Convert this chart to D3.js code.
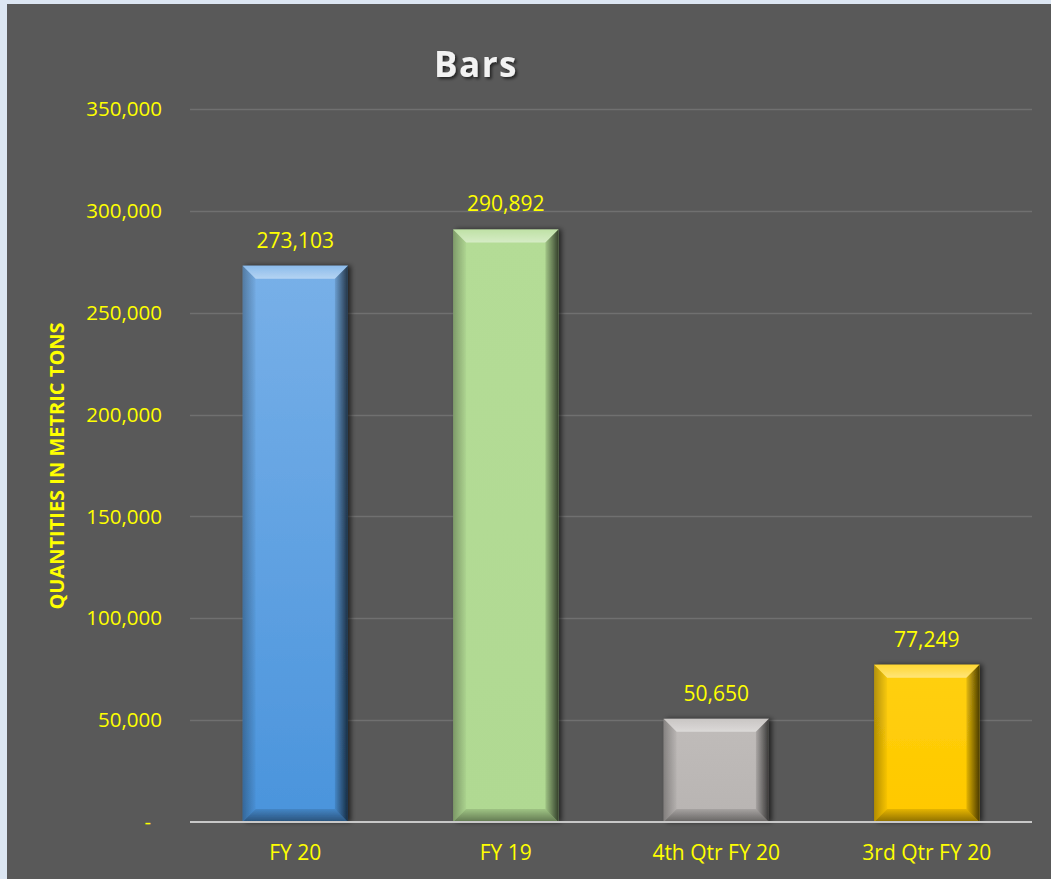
<!DOCTYPE html>
<html><head><meta charset="utf-8">
<script src="https://cdn.jsdelivr.net/npm/d3@7"></script>
<style>
html,body{margin:0;padding:0;background:#dce6f2;}
svg{display:block;}
</style></head>
<body>
<svg id="chart" width="1051" height="879"></svg>
<script>
const categories = ["FY 20", "FY 19", "4th Qtr FY 20", "3rd Qtr FY 20"];
const values = [273103, 290892, 50650, 77249];
const yTicks = [0, 50000, 100000, 150000, 200000, 250000, 300000, 350000];
const barColors = [["#78b0e8", "#4a94dc"], ["#b4dc96", "#b0d992"], ["#c0bcba", "#b8b4b2"], ["#ffd00d", "#ffc800"]];

const W = 1051, H = 879;
const svg = d3.select("#chart");
const FONT = "'Open Sans', 'Liberation Sans', sans-serif";

svg.append("rect").attr("x", 7).attr("y", 4).attr("width", W - 7).attr("height", H - 4).attr("fill", "#595959");

const x = d3.scaleBand().domain(categories).range([190, 1032]).paddingInner(0.5).paddingOuter(0.25);
const y = d3.scaleLinear().domain([0, 350000]).range([822, 109]);

const defs = svg.append("defs");
const f = defs.append("filter").attr("id", "shadow").attr("x", "-20%").attr("y", "-20%").attr("width", "140%").attr("height", "140%");
f.append("feDropShadow").attr("dx", 3).attr("dy", 0).attr("stdDeviation", 2.5).attr("flood-color", "#000").attr("flood-opacity", 0.6);
const tf = defs.append("filter").attr("id", "tshadow").attr("x", "-20%").attr("y", "-20%").attr("width", "140%").attr("height", "140%");
tf.append("feDropShadow").attr("dx", 2).attr("dy", 2).attr("stdDeviation", 1.5).attr("flood-color", "#000").attr("flood-opacity", 0.6);

barColors.forEach((c, i) => {
  const g = defs.append("linearGradient").attr("id", "g" + i).attr("x1", 0).attr("y1", 0).attr("x2", 0).attr("y2", 1);
  g.append("stop").attr("offset", "0%").attr("stop-color", c[0]);
  g.append("stop").attr("offset", "100%").attr("stop-color", c[1]);
});
// bevel gradients (objectBoundingBox)
function bevelGrad(id, x1, y1, x2, y2, color, opOuter, opInner) {
  const g = defs.append("linearGradient").attr("id", id).attr("x1", x1).attr("y1", y1).attr("x2", x2).attr("y2", y2);
  g.append("stop").attr("offset", "0%").attr("stop-color", color).attr("stop-opacity", opOuter);
  g.append("stop").attr("offset", "100%").attr("stop-color", color).attr("stop-opacity", opInner);
}
bevelGrad("bTop", 0, 0, 0, 1, "#ffffff", 0.15, 0.45);
bevelGrad("bLeft", 0, 0, 1, 0, "#000000", 0.3, 0.03);
bevelGrad("bRight", 1, 0, 0, 0, "#000000", 0.7, 0.1);
bevelGrad("bBottom", 0, 1, 0, 0, "#000000", 0.45, 0.1);

// gridlines
svg.append("g").selectAll("line").data(yTicks.filter(d => d > 0)).join("line")
  .attr("x1", 190).attr("x2", 1032)
  .attr("y1", d => Math.round(y(d)) + 0.5).attr("y2", d => Math.round(y(d)) + 0.5)
  .attr("stroke", "#707070").attr("stroke-width", 1.3);

// y tick labels
svg.append("g").selectAll("text").data(yTicks).join("text")
  .attr("x", d => d === 0 ? 151 : 162).attr("y", d => y(d))
  .attr("dy", "0.35em").attr("text-anchor", "end")
  .attr("fill", "#ffff00").attr("font-family", FONT).attr("font-size", 20.5)
  .text(d => d === 0 ? "-" : d3.format(",")(d));

// bars
const bev = 13;
const bars = svg.append("g").selectAll("g").data(values).join("g").attr("filter", "url(#shadow)");
bars.each(function(v, i) {
  const g = d3.select(this);
  const x0 = x(categories[i]), w = x.bandwidth();
  const y0 = y(v), y1 = y(0);
  const x1 = x0 + w;
  const b = Math.min(bev, (y1 - y0) / 2);
  g.append("rect").attr("x", x0).attr("y", y0).attr("width", w).attr("height", y1 - y0).attr("fill", `url(#g${i})`);
  const poly = (pts, fill) => g.append("polygon").attr("points", pts.map(p => p.join(",")).join(" ")).attr("fill", fill);
  poly([[x0, y0], [x1, y0], [x1 - b, y0 + b], [x0 + b, y0 + b]], "url(#bTop)");
  poly([[x0, y0], [x0 + b, y0 + b], [x0 + b, y1 - b], [x0, y1]], "url(#bLeft)");
  poly([[x1, y0], [x1, y1], [x1 - b, y1 - b], [x1 - b, y0 + b]], "url(#bRight)");
  poly([[x0, y1], [x0 + b, y1 - b], [x1 - b, y1 - b], [x1, y1]], "url(#bBottom)");
});

// axis line
svg.append("line").attr("x1", 190).attr("x2", 1032).attr("y1", 822).attr("y2", 822)
  .attr("stroke", "#c8c8c8").attr("stroke-width", 2);

// data labels
svg.append("g").selectAll("text").data(values).join("text")
  .attr("x", (d, i) => x(categories[i]) + x.bandwidth() / 2)
  .attr("y", d => y(d) - 18).attr("text-anchor", "middle")
  .attr("fill", "#ffff00").attr("font-family", FONT).attr("font-size", 21)
  .text(d => d3.format(",")(d));

// x labels
svg.append("g").selectAll("text").data(categories).join("text")
  .attr("x", d => x(d) + x.bandwidth() / 2).attr("y", 853).attr("dy", "0.35em")
  .attr("text-anchor", "middle").attr("fill", "#ffff00").attr("font-family", FONT).attr("font-size", 21)
  .text(d => d);

// title
svg.append("text").attr("x", 476).attr("y", 77).attr("text-anchor", "middle")
  .attr("fill", "#f2f2f2").attr("font-family", FONT).attr("font-weight", "bold").attr("font-size", 35)
  .attr("letter-spacing", 1.5).attr("filter", "url(#tshadow)").text("Bars");

// y axis title
svg.append("text").attr("transform", "translate(57,466) rotate(-90)").attr("text-anchor", "middle")
  .attr("dy", "0.35em").attr("fill", "#ffff00").attr("font-family", FONT).attr("font-weight", "bold")
  .attr("font-size", 20).text("QUANTITIES IN METRIC TONS");
</script>
</body></html>
